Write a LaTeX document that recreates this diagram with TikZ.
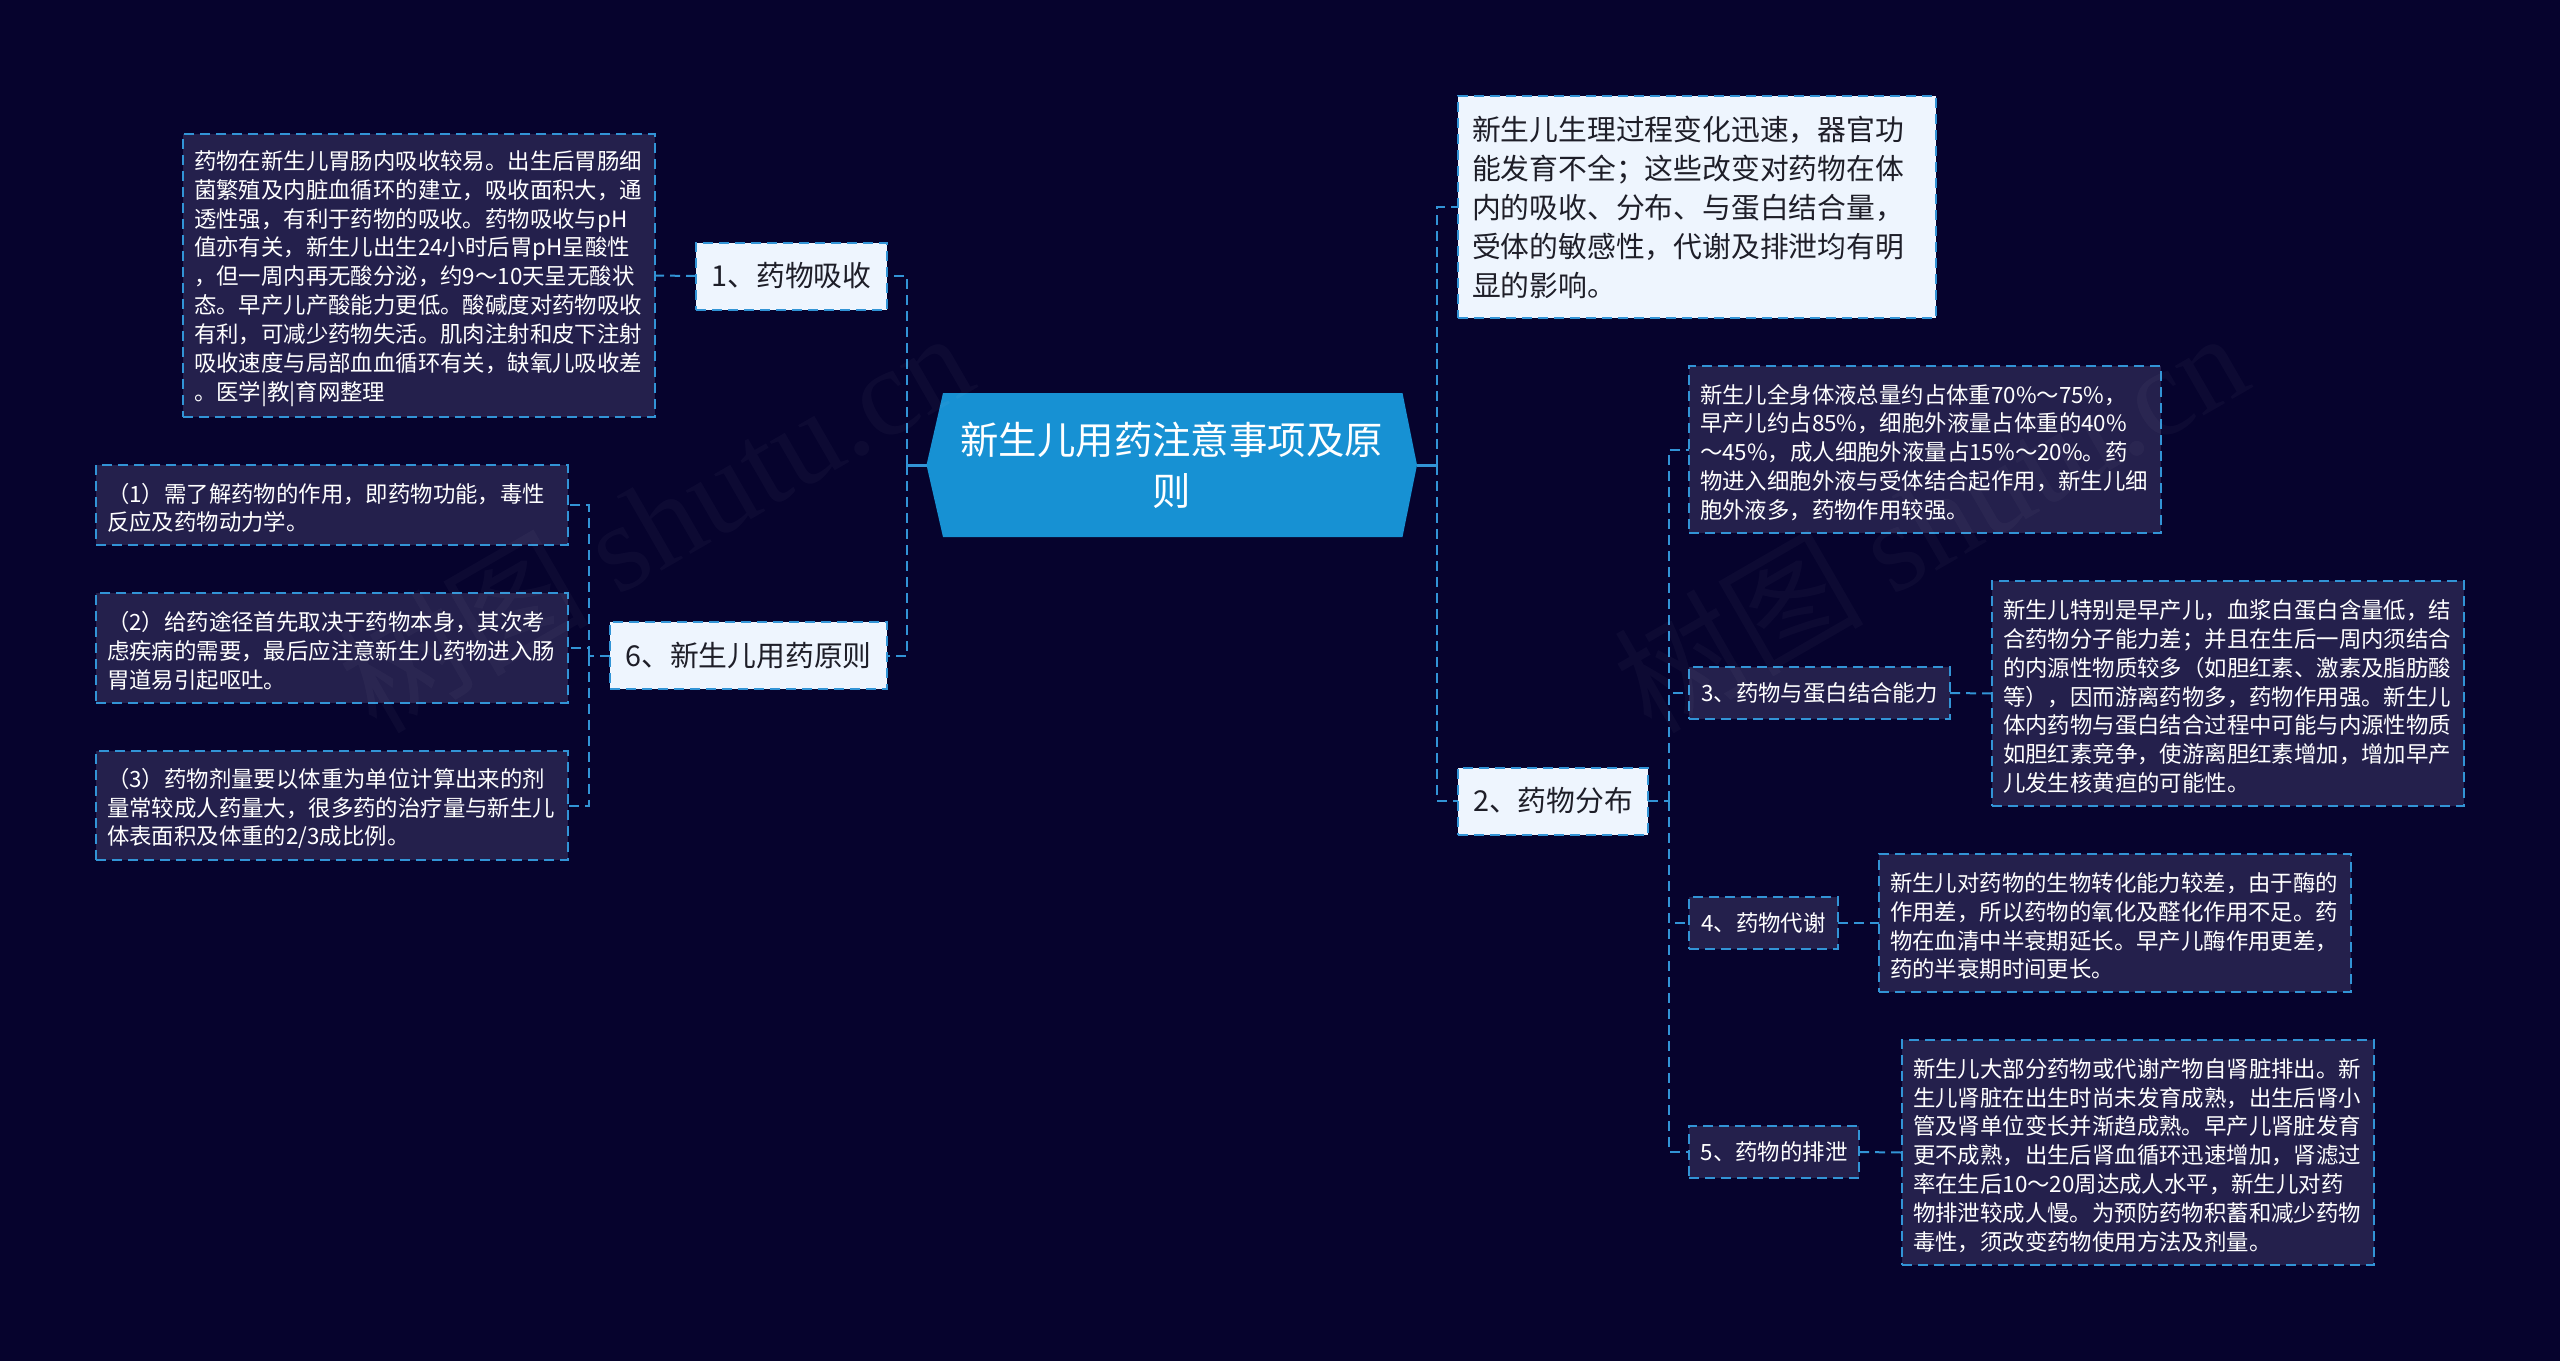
\documentclass[tikz,border=0pt]{standalone}
\usepackage{fontspec}
\setmainfont{Noto Sans CJK SC}
\newfontfamily\wmfont{Liberation Serif}
\newfontfamily\wmcjk{Noto Sans CJK SC}
\lineskiplimit=-100pt
\normallineskiplimit=-100pt
\definecolor{bgc}{RGB}{6,3,45}
\definecolor{dkc}{RGB}{36,32,76}
\definecolor{ltc}{RGB}{238,245,254}
\definecolor{bluec}{RGB}{23,145,211}
\definecolor{linec}{RGB}{50,148,214}
\definecolor{txtd}{RGB}{30,30,40}
\tikzset{
  bx/.style={draw=linec,line width=2pt,dash pattern=on 10pt off 6pt,inner ysep=0pt,outer sep=0pt},
  sz/.style 2 args={minimum width=#1pt,minimum height=#2pt},
  dk/.style={bx,fill=dkc,text=white,font=\fontsize{22.4}{28.9}\selectfont},
  dkp/.style={dk,align=left,inner xsep=11pt,text width=450pt,execute at begin node={\leavevmode\rule{0pt}{25pt}}},
  lt/.style={bx,fill=ltc,text=txtd,font=\fontsize{28.8}{39}\selectfont},
  ct/.style={text=white,font=\fontsize{38.4}{51}\selectfont,align=center,inner sep=0pt,outer sep=0pt},
  conn/.style={draw=linec,line width=2pt,dash pattern=on 10pt off 6pt},
  stem/.style={draw=linec,line width=3pt},
  wm/.style={text=white,text opacity=0.03,rotate=30,font=\fontsize{125}{125}\selectfont}
}
\begin{document}
\begin{tikzpicture}[x=1pt,y=-1pt]
\fill[bgc] (0,0) rectangle (2560,1361);
\useasboundingbox (0,0) rectangle (2560,1361);
% nodes
\node[ct,minimum width=490.5pt,minimum height=144pt] (c) at (1171.75,465) {};
\fill[bluec] (c.west) -- ([xshift=16.5pt]c.north west) -- ([xshift=-14.5pt]c.north east) -- (c.east) -- ([xshift=-14.5pt]c.south east) -- ([xshift=16.5pt]c.south west) -- cycle;
\node[ct,minimum width=490.5pt,minimum height=144pt] (ctext) at (c.center) {新生儿用药注意事项及原\\则};

\node[lt,sz={191}{67}] (n1) at (791.5,276) {1、药物吸收};
\node[lt,sz={277}{67}] (n6) at (748.5,655.5) {6、新生儿用药原则};
\node[lt,sz={190}{67}] (n2) at (1553,801) {2、药物分布};
\node[lt,sz={478}{222},align=left,inner xsep=14pt,text width=450pt] (top) at (1697,207) {新生儿生理过程变化迅速，器官功\\能发育不全；这些改变对药物在体\\内的吸收、分布、与蛋白结合量，\\受体的敏感性，代谢及排泄均有明\\显的影响。};

\node[dkp,sz={472}{283}] (t1) at (419,275.5) {药物在新生儿胃肠内吸收较易。出生后胃肠细\\菌繁殖及内脏血循环的建立，吸收面积大，通\\透性强，有利于药物的吸收。药物吸收与pH\\值亦有关，新生儿出生24小时后胃pH呈酸性\\，但一周内再无酸分泌，约9～10天呈无酸状\\态。早产儿产酸能力更低。酸碱度对药物吸收\\有利，可减少药物失活。肌肉注射和皮下注射\\吸收速度与局部血血循环有关，缺氧儿吸收差\\。医学|教|育网整理};
\node[dkp,sz={472}{80}] (p1) at (332,505) {（1）需了解药物的作用，即药物功能，毒性\\反应及药物动力学。};
\node[dkp,sz={472}{110}] (p2) at (332,648) {（2）给药途径首先取决于药物本身，其次考\\虑疾病的需要，最后应注意新生儿药物进入肠\\胃道易引起呕吐。};
\node[dkp,sz={472}{109}] (p3) at (332,805.5) {（3）药物剂量要以体重为单位计算出来的剂\\量常较成人药量大，很多药的治疗量与新生儿\\体表面积及体重的2/3成比例。};

\node[dkp,sz={472}{167}] (a) at (1925,449.5) {新生儿全身体液总量约占体重70\%～75\%，\\早产儿约占85\%，细胞外液量占体重的40\%\\～45\%，成人细胞外液量占15\%～20\%。药\\物进入细胞外液与受体结合起作用，新生儿细\\胞外液多，药物作用较强。};
\node[dk,sz={261}{52},inner xsep=0pt] (n3) at (1819.5,693) {3、药物与蛋白结合能力};
\node[dkp,sz={472}{225}] (b) at (2228,693.5) {新生儿特别是早产儿，血浆白蛋白含量低，结\\合药物分子能力差；并且在生后一周内须结合\\的内源性物质较多（如胆红素、激素及脂肪酸\\等），因而游离药物多，药物作用强。新生儿\\体内药物与蛋白结合过程中可能与内源性物质\\如胆红素竞争，使游离胆红素增加，增加早产\\儿发生核黄疸的可能性。};
\node[dk,sz={149}{52},inner xsep=0pt] (n4) at (1763.5,923) {4、药物代谢};
\node[dkp,sz={472}{138}] (d4) at (2115,923) {新生儿对药物的生物转化能力较差，由于酶的\\作用差，所以药物的氧化及醛化作用不足。药\\物在血清中半衰期延长。早产儿酶作用更差，\\药的半衰期时间更长。};
\node[dk,sz={170}{52},inner xsep=0pt] (n5) at (1774,1152) {5、药物的排泄};
\node[dkp,sz={472}{225}] (d5) at (2138,1152.5) {新生儿大部分药物或代谢产物自肾脏排出。新\\生儿肾脏在出生时尚未发育成熟，出生后肾小\\管及肾单位变长并渐趋成熟。早产儿肾脏发育\\更不成熟，出生后肾血循环迅速增加，肾滤过\\率在生后10～20周达成人水平，新生儿对药\\物排泄较成人慢。为预防药物积蓄和减少药物\\毒性，须改变药物使用方法及剂量。};

% junctions
\coordinate (jl) at (907,465);
\coordinate (jr) at (1437,465);
\coordinate (j6) at (589,655.5);
\coordinate (j2) at (1669,801);
% connectors
\draw[stem] (c.west) -- (jl);
\draw[stem] (c.east) -- (jr);
\draw[conn] (jl) |- (n1.east);
\draw[conn] (jl) |- (n6.east);
\draw[conn] (jr) |- (top.west);
\draw[conn] (jr) |- (n2.west);
\draw[conn] (n1.west) -- (t1.east);
\draw[conn] (n6.west) -- (j6);
\draw[conn] (j6) |- (p1.east);
\draw[conn] (j6) |- (p2.east);
\draw[conn] (j6) |- (p3.east);
\draw[conn] (n2.east) -- (j2);
\draw[conn] (j2) |- (a.west);
\draw[conn] (j2) |- (n3.west);
\draw[conn] (j2) |- (n4.west);
\draw[conn] (j2) |- (n5.west);
\draw[conn] (n3.east) -- (b.west);
\draw[conn] (n4.east) -- (d4.west);
\draw[conn] (n5.east) -- (d5.west);
% watermark
\node[wm] (w1) at (655,520) {\wmcjk 树图 \wmfont shutu.cn};
\node[wm] (w2) at (1930,520) {\wmcjk 树图 \wmfont shutu.cn};
\end{tikzpicture}
\end{document}
